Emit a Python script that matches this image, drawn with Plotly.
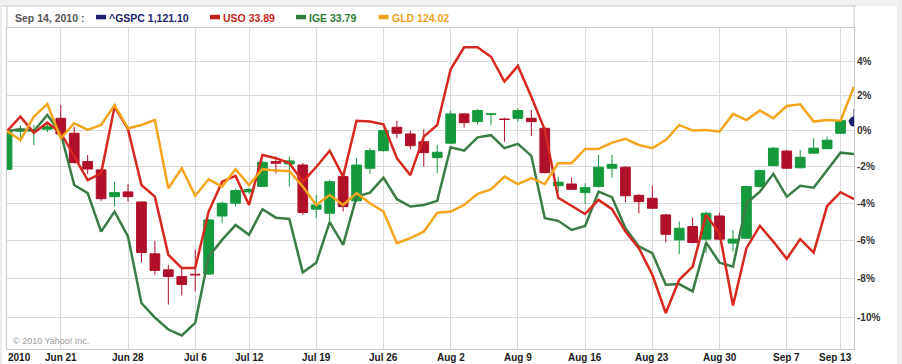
import math
import plotly.graph_objects as go

# ---------------- data (percent change vs. Jun 15, 2010 close) ----------------
gspc_open = [-2.15, -0.02, 0.04, 0.10, 0.72, -0.13, -1.72, -2.18, -3.65, -3.39,
             -3.94, -6.72, -7.56, -7.91, -7.79, -7.78, -4.70, -4.01, -3.39, -3.09,
             -1.72, -1.85, -1.91, -4.33, -4.55, -2.55, -3.88, -2.09, -1.11, 0.21,
             -0.17, -0.61, -1.50, -0.69, 0.97, 0.53, 0.94, 0.68, 0.72, 0.72,
             0.15, -3.05, -2.96, -3.43, -3.10, -2.09, -2.03, -3.58, -3.74, -4.64,
             -5.98, -5.27, -5.94, -4.70, -6.15, -5.89, -3.10, -1.94, -1.13, -2.06,
             -1.25, -1.00, -0.13, 0.60]
gspc_high = [0.05, 0.34, 0.34, 0.53, 1.48, 0.24, -1.35, -2.13, -2.83, -2.96,
             -3.92, -6.03, -7.30, -7.45, -6.51, -4.86, -3.92, -3.23, -3.17, -1.69,
             -1.43, -1.44, -1.80, -3.56, -2.74, -2.37, -1.53, -0.97, 0.08, 0.58,
             0.02, 0.10, -0.79, 1.16, 1.03, 1.25, 1.00, 0.74, 1.31, 1.20,
             0.23, -2.55, -2.59, -2.92, -1.35, -1.35, -1.97, -3.50, -3.05, -4.58,
             -5.00, -4.77, -4.46, -4.52, -5.45, -3.05, -2.16, -0.90, -1.07, -1.07,
             -0.41, -0.32, 0.65, 1.25]
gspc_low = [-2.18, -0.61, -0.79, -0.07, -0.20, -1.82, -2.40, -3.88, -4.19, -3.92,
            -7.18, -7.82, -9.36, -8.89, -8.68, -7.82, -5.09, -4.19, -3.50, -3.11,
            -2.38, -3.09, -4.64, -4.82, -5.09, -4.46, -3.94, -2.40, -1.15, -0.41,
            -1.03, -2.00, -2.37, -0.73, 0.19, 0.38, 0.34, -0.61, 0.53, -0.28,
            -2.38, -3.38, -3.29, -4.05, -3.15, -2.61, -3.96, -4.55, -4.32, -6.12,
            -6.74, -6.17, -6.68, -5.98, -6.60, -5.92, -3.15, -1.99, -2.13, -2.11,
            -1.29, -1.00, -0.17, 0.45]
gspc_close = [0.00, 0.10, 0.06, 0.24, -0.17, -1.78, -2.13, -3.76, -3.43, -3.65,
              -6.65, -7.59, -7.91, -8.32, -7.82, -4.91, -4.01, -3.32, -3.26, -1.76,
              -1.81, -1.68, -4.51, -4.10, -2.83, -4.19, -1.91, -1.11, 0.02, -0.13,
              -0.83, -1.22, -1.20, 0.97, 0.47, 1.16, 0.97, 0.65, 1.16, 0.53,
              -2.33, -2.86, -3.25, -3.16, -2.03, -1.87, -3.60, -3.92, -4.28, -5.68,
              -5.36, -6.12, -4.55, -5.94, -5.94, -3.10, -2.22, -0.97, -2.09, -1.48,
              -0.97, -0.52, 0.58, 0.53]

uso = [0.00, 0.81, -0.11, 0.47, -0.10, -1.44, -2.74, -2.37, 1.38, 0.10,
       -3.01, -3.65, -6.77, -7.47, -7.47, -4.46, -2.83, -2.51, -4.10, -1.35,
       -1.53, -1.80, -2.83, -2.02, -1.11, -2.55, 0.58, 0.53, 0.38, -1.53,
       -2.47, -0.32, 0.34, 3.55, 4.85, 4.85, 4.29, 2.83, 3.75, 1.96,
       0.06, -3.71, -4.16, -4.59, -3.83, -4.33, -5.54, -6.42, -7.82, -9.79,
       -8.08, -7.39, -4.64, -5.62, -9.41, -6.42, -5.23, -6.07, -6.98, -5.94,
       -6.65, -4.16, -3.41, -3.78]
ige = [0.00, 0.10, 0.00, 0.91, -0.13, -3.01, -3.46, -5.54, -4.46, -5.80,
       -9.28, -10.02, -10.63, -10.93, -10.29, -6.86, -5.98, -5.18, -5.71, -4.33,
       -4.79, -4.86, -7.70, -7.19, -5.03, -6.24, -3.65, -3.43, -2.61, -3.79,
       -4.19, -4.10, -3.88, -0.92, -1.11, -0.36, -0.24, -0.97, -0.73, -1.40,
       -4.82, -4.96, -5.45, -5.23, -3.38, -3.68, -5.36, -6.33, -6.68, -8.34,
       -8.30, -8.68, -6.12, -7.18, -7.39, -4.01, -3.38, -2.40, -3.65, -3.06,
       -3.16, -2.18, -1.22, -1.29]
gld = [0.00, -0.51, 0.81, 1.54, -0.41, 0.44, 0.06, 0.34, 1.47, 0.15,
       0.34, 0.62, -3.19, -2.09, -3.60, -2.70, -3.10, -2.14, -3.01, -2.14,
       -2.22, -2.24, -3.10, -4.10, -3.56, -4.10, -3.46, -4.01, -4.46, -6.15,
       -5.89, -5.54, -4.52, -4.46, -4.10, -3.50, -3.25, -2.55, -2.96, -2.64,
       -2.96, -1.80, -1.81, -1.01, -1.01, -0.66, -0.45, -0.79, -0.97, -0.51,
       0.34, 0.02, 0.06, -0.04, 0.97, 0.62, 1.16, 0.72, 1.42, 1.52,
       0.53, 0.62, 0.58, 2.54]

tick_idx = [4, 9, 14, 18, 23, 28, 33, 38, 43, 48, 53, 58, 62]
tick_labels = ["Jun 21", "Jun 28", "Jul 6", "Jul 12", "Jul 19", "Jul 26", "Aug 2",
               "Aug 9", "Aug 16", "Aug 23", "Aug 30", "Sep 7", "Sep 13"]
year_label = "2010"
ytick_pct = [4, 2, 0, -2, -4, -6, -8, -10]

header_date = "Sep 14, 2010 :"
legend_names = ["^GSPC", "USO", "IGE", "GLD"]
legend_values = ["1,121.10", "33.89", "33.79", "124.02"]

# ---------------- styling ----------------
W, H = 902, 364
ML, MR, MT, MB = 7, 48, 28, 15
PW = W - ML - MR
PH = H - MT - MB
FONT = "Liberation Sans, Arial, sans-serif"
C_UP = "#15993d"
C_DOWN = "#b0102a"
C_NAVY = "#1b1f6e"
C_USO = "#d6281e"
C_IGE = "#3b7c46"
C_GLD = "#f5a51c"
GRID = "#dadada"
BORDER = "#c9c9c9"


def px(xp):
    return (xp - ML) / PW


def py(yp):
    return (H - MB - yp) / PH


def ratio(values):
    return [1 + v / 100.0 for v in values]


n = len(gspc_close)
x = list(range(n))

fig = go.Figure()

fig.add_trace(go.Candlestick(
    x=x[:-1], open=ratio(gspc_open)[:-1], high=ratio(gspc_high)[:-1],
    low=ratio(gspc_low)[:-1], close=ratio(gspc_close)[:-1],
    increasing=dict(line=dict(color=C_UP, width=1), fillcolor=C_UP),
    decreasing=dict(line=dict(color=C_DOWN, width=1), fillcolor=C_DOWN),
    whiskerwidth=0, showlegend=False, hoverinfo="skip"))
fig.add_trace(go.Candlestick(
    x=x[-1:], open=ratio(gspc_open)[-1:], high=ratio(gspc_high)[-1:],
    low=ratio(gspc_low)[-1:], close=ratio(gspc_close)[-1:],
    increasing=dict(line=dict(color=C_NAVY, width=1), fillcolor=C_NAVY),
    decreasing=dict(line=dict(color=C_NAVY, width=1), fillcolor=C_NAVY),
    whiskerwidth=0, showlegend=False, hoverinfo="skip"))

for vals, col, name in [(ige, C_IGE, "IGE"), (uso, C_USO, "USO"), (gld, C_GLD, "GLD")]:
    fig.add_trace(go.Scatter(x=x, y=ratio(vals), mode="lines", name=name,
                             line=dict(color=col, width=2.5), showlegend=False))

fig.add_trace(go.Scatter(x=x[-1:], y=ratio(gspc_close)[-1:], mode="markers",
                         marker=dict(size=10, color=C_NAVY), showlegend=False,
                         cliponaxis=True))

shapes = [
    # light grey frame strips
    dict(type="rect", xref="paper", yref="paper", x0=px(0), x1=px(W), y0=py(6), y1=py(0),
         fillcolor="#f0f0f0", line=dict(width=0), layer="below"),
    dict(type="rect", xref="paper", yref="paper", x0=px(0), x1=px(2), y0=py(H), y1=py(0),
         fillcolor="#ececec", line=dict(width=0), layer="below"),
    dict(type="rect", xref="paper", yref="paper", x0=px(897), x1=px(W), y0=py(H), y1=py(0),
         fillcolor="#efefef", line=dict(width=0), layer="below"),
    # header box
    dict(type="line", xref="paper", yref="paper", x0=px(2), x1=px(856), y0=py(6), y1=py(6),
         line=dict(color=BORDER, width=1)),
    dict(type="line", xref="paper", yref="paper", x0=0, x1=0, y0=1, y1=py(6),
         line=dict(color=BORDER, width=1)),
    dict(type="line", xref="paper", yref="paper", x0=1, x1=1, y0=1, y1=py(6),
         line=dict(color=BORDER, width=1)),
]

annotations = [dict(text="<b>" + header_date + "</b>", xref="paper", yref="paper",
                    x=px(13), y=py(17.5), xanchor="left", yanchor="middle", showarrow=False,
                    font=dict(family=FONT, size=10.5, color="#555555"))]

leg_cols = [C_NAVY, "#c41f1c", "#2e7a39", "#eea21c"]
leg_sw = [96, 210, 296, 378.5]
for name, val, col, sx in zip(legend_names, legend_values, leg_cols, leg_sw):
    shapes.append(dict(type="rect", xref="paper", yref="paper", x0=px(sx), x1=px(sx + 10),
                       y0=py(19.3), y1=py(14.8), fillcolor=col, line=dict(width=0)))
    annotations.append(dict(text="<b>" + name + " " + val + "</b>", xref="paper", yref="paper",
                            x=px(sx + 11), y=py(17.5), xanchor="left", yanchor="middle",
                            showarrow=False, font=dict(family=FONT, size=10.5, color=col)))

annotations.append(dict(text="<b>" + year_label + "</b>", xref="x", yref="paper", x=0, y=py(357),
                        xanchor="left", yanchor="middle", showarrow=False, xshift=-1,
                        font=dict(family=FONT, size=10, color="#1a1a1a")))
for i, (ti, tl) in enumerate(zip(tick_idx, tick_labels)):
    annotations.append(dict(text="<b>" + tl + "</b>", xref="x", yref="paper", x=ti, y=py(357),
                            xanchor="center", yanchor="middle", showarrow=False,
                            xshift=(-5 if i == len(tick_idx) - 1 else 0),
                            font=dict(family=FONT, size=10, color="#1a1a1a")))

annotations.append(dict(text="\u00a9 2010 Yahoo! Inc.", xref="paper", yref="paper",
                        x=px(11), y=py(341), xanchor="left", yanchor="middle", showarrow=False,
                        font=dict(family=FONT, size=9, color="#9a9a9a")))

fig.update_layout(
    width=W, height=H,
    margin=dict(l=ML, r=MR, t=MT, b=MB, pad=0),
    paper_bgcolor="white", plot_bgcolor="white",
    font=dict(family=FONT, size=10, color="#333333"),
    showlegend=False,
    boxgap=0.15, boxgroupgap=0.15,
    xaxis=dict(range=[0, n - 1], tickvals=tick_idx, showticklabels=False, ticks="",
               showgrid=True, gridcolor=GRID, gridwidth=1, zeroline=False,
               showline=True, linecolor=BORDER, linewidth=1, mirror=True,
               rangeslider=dict(visible=False)),
    yaxis=dict(type="log", side="right",
               range=[math.log10(0.8839), math.log10(1.0600)],
               tickvals=ratio(ytick_pct), ticktext=[f"{p}%" for p in ytick_pct],
               ticks="", showgrid=True, gridcolor=GRID, gridwidth=1, zeroline=False,
               showline=True, linecolor=BORDER, linewidth=1, mirror=True,
               tickfont=dict(family=FONT, size=10, color="#333333", weight="bold")),
    shapes=shapes,
    annotations=annotations,
)

fig.write_html("out.html")
